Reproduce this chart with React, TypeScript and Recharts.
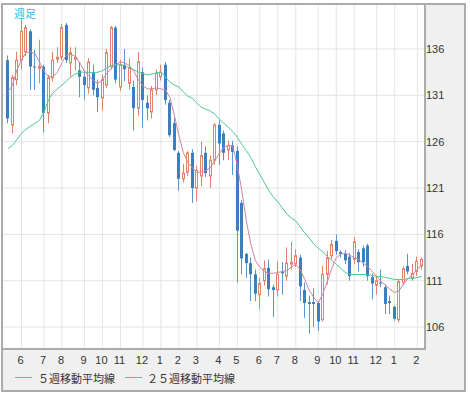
import React from 'react';
import { ComposedChart, Bar, Line, XAxis, YAxis, CartesianGrid } from 'recharts';

const opens = [134.8,127.8,132.7,134.8,135.7,137.9,134.1,133.9,134.1,129.1,132.9,134.9,135.1,138.6,134.5,134.9,133.7,133.0,131.8,133.5,131.8,130.7,132.1,134.1,138.3,131.9,134.3,132.3,131.9,129.6,133.5,130.2,129.2,131.6,133.0,134.3,130.2,128.0,124.8,122.0,122.7,124.8,121.0,122.3,124.8,122.3,124.0,127.8,126.9,125.1,125.6,125.0,119.4,113.9,112.9,111.7,109.5,111.0,112.4,110.3,110.0,112.0,111.5,112.8,112.8,113.5,110.0,108.7,108.7,108.6,106.8,111.7,113.7,115.3,114.1,113.9,113.6,113.3,114.1,114.5,114.8,111.4,110.5,110.8,110.3,108.8,108.2,106.8,110.8,112.6,111.3,112.0,112.6];
const highs = [135.3,133.2,135.7,139.3,138.6,138.1,135.9,137.0,134.3,133.2,135.7,136.2,138.7,138.8,136.2,136.2,134.6,133.7,135.0,134.3,132.7,133.2,136.0,138.5,138.5,134.8,136.0,135.0,132.6,135.7,134.0,131.0,132.0,133.8,134.3,134.6,130.5,128.6,125.0,123.6,125.0,125.2,123.4,126.0,125.5,124.5,128.0,128.3,127.2,126.1,126.1,125.5,119.7,114.0,113.5,112.2,111.3,113.2,113.3,110.6,113.1,113.0,114.6,115.2,114.4,113.8,110.8,109.4,110.2,108.8,112.6,114.2,115.4,116.0,114.3,114.3,114.0,115.7,114.4,114.8,115.0,111.8,111.5,112.2,110.6,109.4,108.3,111.2,112.6,113.9,112.8,113.6,113.5];
const lows = [128.0,126.9,132.1,133.8,135.2,131.6,131.6,132.3,127.0,128.0,132.5,134.5,134.8,134.5,133.0,133.7,130.8,130.5,131.2,131.0,129.2,129.4,131.8,133.8,132.3,131.5,132.5,131.6,127.2,128.8,127.5,128.3,128.5,131.0,132.6,130.0,126.5,125.0,120.7,121.6,122.3,119.4,119.6,121.2,122.2,121.0,123.5,123.5,124.0,124.0,122.4,110.8,111.7,111.3,108.8,108.8,107.9,110.5,109.3,107.1,109.3,109.5,111.0,112.2,112.5,108.8,107.0,105.3,106.0,105.6,106.6,110.6,113.3,113.8,113.5,112.8,111.0,112.8,112.0,112.5,111.0,109.0,109.5,110.3,107.4,107.4,106.7,106.5,110.5,111.7,111.0,111.5,112.2];
const closes = [128.5,132.9,134.8,137.9,138.3,134.1,134.0,134.1,129.1,132.9,134.8,135.1,138.3,134.8,135.6,135.1,133.0,132.1,134.6,131.6,130.8,132.7,135.6,138.3,132.7,134.3,133.8,134.0,129.6,134.6,130.5,129.6,131.6,133.4,133.5,130.5,126.7,125.1,122.0,122.6,124.8,121.0,122.9,124.5,122.6,124.0,127.8,125.8,124.8,125.6,124.9,116.4,113.4,112.9,111.7,109.6,110.7,112.3,110.1,110.0,111.7,111.8,112.9,113.0,113.7,110.4,108.6,108.5,108.5,106.6,111.7,113.5,114.9,114.2,113.9,113.2,111.5,115.2,113.0,113.0,111.5,110.7,111.0,110.7,108.5,108.6,106.9,110.9,112.3,112.0,111.8,113.1,113.3];
const ma5 = [131.35,132.1,133.75,134.84,135.6,135.7,135.5,134.6,133.6,133.0,133.0,133.5,134.5,135.4,135.4,135.2,134.5,133.6,133.1,132.55,132.3,132.66,133.4,133.86,134.3,134.6,134.5,134.2,133.6,132.66,132.0,131.7,131.7,131.8,131.7,131.58,130.8,128.86,126.7,124.8,123.75,123.2,122.66,122.77,122.88,123.2,123.97,124.73,125.4,125.6,125.5,123.4,120.7,117.45,114.96,113.2,112.45,112.0,111.8,111.8,111.9,112.0,112.1,112.45,112.77,112.2,111.14,109.95,109.2,108.6,109.6,110.9,112.33,113.5,113.86,113.97,113.75,113.5,113.3,112.88,112.55,112.0,111.46,110.93,110.5,110.06,109.73,109.95,110.7,111.25,111.68,112.23,112.77];
const ma25 = [125.27,125.6,126.25,126.9,127.34,127.66,127.99,128.3,129.2,130.5,131.25,131.7,132.1,132.55,133.0,133.3,133.5,133.5,133.48,133.4,133.5,133.65,133.97,134.2,134.3,134.3,134.2,133.97,133.75,133.5,133.37,133.2,133.3,133.4,133.5,133.0,132.44,132.1,131.9,131.36,130.9,130.7,130.16,129.73,129.5,129.3,128.97,128.42,127.99,127.55,127.1,126.47,125.7,125.05,124.3,123.3,122.45,121.6,120.7,120.06,119.5,118.85,118.2,117.77,117.45,116.8,116.15,115.6,114.96,114.5,114.1,113.64,113.2,112.77,112.33,111.9,111.68,111.68,111.68,111.68,111.68,111.57,111.46,111.46,111.35,111.25,111.14,111.14,111.14,111.25,111.25,111.35,111.46];
const monthTicks = [3,8,12,17,21,25,30,34,38,42,47,51,56,60,64,69,73,77,82,86,91];
const monthLabels = ['6','7','8','9','10','11','12','1','2','3','4','5','6','7','8','9','10','11','12','1','2'];
const priceTicks = [106,111,116,121,126,131,136];

const data = opens.map((o, i) => ({
  i,
  open: o,
  high: highs[i],
  low: lows[i],
  close: closes[i],
  ma5: ma5[i],
  ma25: ma25[i],
}));

const UP = '#e5806a';
const DOWN = '#3b7fc0';
const DOWN_WICK = '#5b96cf';
const MA5_COLOR = '#d282a6';
const MA25_COLOR = '#4fc98f';

const Candle = (props: any) => {
  const { x, y, width, height, payload } = props;
  if (!payload) return null;
  const { open, close, high, low } = payload;
  const h = Math.abs(height);
  const top = height >= 0 ? y : y + height;
  const ratio = h / (high - low);
  const yOf = (v: number) => top + (high - v) * ratio;
  const cxRaw = x + width / 2;
  const n = Math.round(cxRaw - 0.5);
  const cx = n + 0.5;
  const up = close >= open;
  const bTop = yOf(Math.max(open, close));
  const bBot = yOf(Math.min(open, close));
  const bh = Math.max(bBot - bTop, 1);
  if (up) {
    return (
      <g>
        <line x1={cx} x2={cx} y1={yOf(high)} y2={yOf(low)} stroke={UP} strokeWidth={1} />
        <rect x={cx - 1} y={bTop} width={2} height={bh} fill="#fff" stroke={UP} strokeWidth={1} />
      </g>
    );
  }
  return (
    <g>
      <line x1={cx} x2={cx} y1={yOf(high)} y2={yOf(low)} stroke={DOWN_WICK} strokeWidth={1} />
      <rect x={n - 1} y={bTop} width={3} height={bh} fill={DOWN} />
    </g>
  );
};

const tickFont = { fontSize: 11, fill: '#333', fontFamily: '"Liberation Sans", Arial, sans-serif' };
const cjkFont = '"Noto Sans CJK JP", sans-serif';

export default function App() {
  return (
    <div style={{ position: 'absolute', left: 0, top: 0, width: 470, height: 395, background: '#fff', overflow: 'hidden' }}>
      <div style={{ position: 'absolute', left: 1, top: 3, width: 465, height: 389, boxSizing: 'border-box', border: '2px solid #ababab', background: '#f0f0f0' }} />
      <div style={{ position: 'absolute', left: 0, top: 0 }}>
        <ComposedChart width={470} height={395} data={data} margin={{ top: 4, right: 4, bottom: 26, left: 2 }}>
          <CartesianGrid stroke="#e4e4e4" fill="#fff" />
          <XAxis
            dataKey="i"
            type="number"
            domain={[-1.334, 92.73]}
            allowDataOverflow
            ticks={monthTicks}
            tickFormatter={(v: number) => monthLabels[monthTicks.indexOf(v)] ?? ''}
            axisLine={false}
            tickLine={false}
            tickSize={0}
            tickMargin={7.5}
            height={20}
            interval={0}
            tick={tickFont}
            dx={-1}
          />
          <YAxis
            orientation="right"
            domain={[103.64, 140.85]}
            allowDataOverflow
            ticks={priceTicks}
            axisLine={false}
            tickLine={false}
            tickSize={0}
            tickMargin={1}
            width={41}
            interval={0}
            tick={{ ...tickFont, textAnchor: 'start' }}
          />
          <Bar dataKey={(d: any) => [d.low, d.high]} barSize={4} shape={<Candle />} isAnimationActive={false} />
          <Line dataKey="ma25" type="linear" stroke={MA25_COLOR} strokeWidth={1} dot={false} isAnimationActive={false} />
          <Line dataKey="ma5" type="linear" stroke={MA5_COLOR} strokeWidth={1} dot={false} isAnimationActive={false} />
        </ComposedChart>
      </div>
      <div style={{ position: 'absolute', left: 1, top: 3, width: 425, height: 347, boxSizing: 'border-box', border: '2px solid #ababab', pointerEvents: 'none' }} />
      <div style={{ position: 'absolute', left: 14, top: 6, fontFamily: cjkFont, fontSize: 11, lineHeight: '14px', color: '#3cb8e8' }}>週足</div>
      <div style={{ position: 'absolute', left: 15, top: 377, width: 17, height: 1, background: MA5_COLOR }} />
      <div style={{ position: 'absolute', left: 38, top: 371, fontFamily: cjkFont, fontSize: 11, lineHeight: '14px', color: '#333', whiteSpace: 'nowrap' }}>５週移動平均線</div>
      <div style={{ position: 'absolute', left: 125, top: 377, width: 17, height: 1, background: MA25_COLOR }} />
      <div style={{ position: 'absolute', left: 147, top: 371, fontFamily: cjkFont, fontSize: 11, lineHeight: '14px', color: '#333', whiteSpace: 'nowrap' }}>２５週移動平均線</div>
    </div>
  );
}
